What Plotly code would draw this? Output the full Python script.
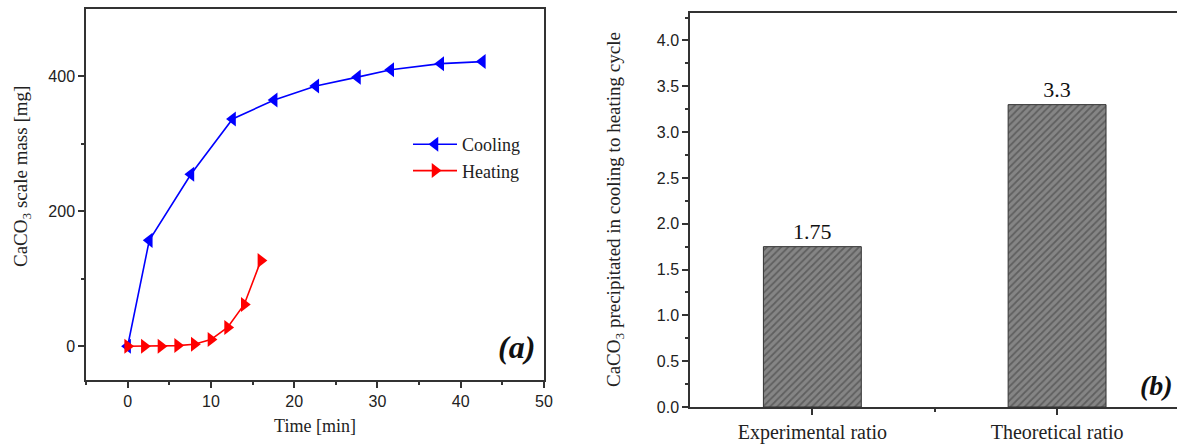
import plotly.graph_objects as go

# ---- data ----
cool_t = [0, 2.6, 7.6, 12.6, 17.6, 22.6, 27.6, 31.6, 37.6, 42.6]
cool_m = [0, 157, 255, 337, 365, 386, 399, 410, 419, 422]
heat_t = [0, 2, 4, 6, 8, 10, 12, 14, 16]
heat_m = [0, 0, 0, 1, 3, 10, 28, 62, 127]
bar_labels = ["Experimental ratio", "Theoretical ratio"]
bar_pos = [0, 1]
bar_vals = [1.75, 3.3]

W, H = 1177, 444
SERIF = "Liberation Serif"
SANS = "Liberation Sans"

fig = go.Figure()

fig.add_trace(go.Scatter(
    x=cool_t, y=cool_m, mode="lines+markers", name="Cooling",
    line=dict(color="#0000ff", width=1.6),
    marker=dict(symbol="triangle-left", size=13, color="#0000ff"),
    xaxis="x", yaxis="y"))
fig.add_trace(go.Scatter(
    x=heat_t, y=heat_m, mode="lines+markers", name="Heating",
    line=dict(color="#ff0000", width=1.6),
    marker=dict(symbol="triangle-right", size=13, color="#ff0000"),
    xaxis="x", yaxis="y"))

fig.add_trace(go.Bar(
    x=bar_pos, y=bar_vals, width=0.4, showlegend=False,
    text=[str(v) for v in bar_vals], textposition="outside",
    textfont=dict(family=SERIF, size=22, color="#111"),
    cliponaxis=False,
    marker=dict(color="#7a7a7a",
                line=dict(color="#333333", width=1),
                pattern=dict(shape="/", fgcolor="#3a3a3a", bgcolor="#858585",
                             size=5, solidity=0.35)),
    xaxis="x2", yaxis="y2"))

axis_common = dict(showline=True, linecolor="#333333", linewidth=1.5,
                   ticks="outside", tickcolor="#333333", tickwidth=1.5,
                   showgrid=False, zeroline=False, automargin=False,
                   tickfont=dict(family=SANS, size=16, color="#222"))

fig.update_layout(
    width=W, height=H, margin=dict(l=0, r=0, t=0, b=0),
    paper_bgcolor="white", plot_bgcolor="white",
    xaxis=dict(domain=[86 / W, 544 / W], anchor="y", range=[-5, 50],
               dtick=10, ticklen=6, mirror=True,
               minor=dict(dtick=5, ticks="outside", ticklen=3, tickcolor="#333333"),
               title=dict(text="Time [min]", font=dict(family=SERIF, size=18, color="#222"),
                          standoff=10),
               **axis_common),
    yaxis=dict(domain=[1 - 380 / H, 1 - 9 / H], anchor="x", range=[-50, 500],
               tickvals=[0, 200, 400], ticklen=6, mirror=True,
               minor=dict(tickvals=[100, 300], ticks="outside", ticklen=3, tickcolor="#333333"),
               **axis_common),
    xaxis2=dict(domain=[690 / W, 1.0], anchor="y2", range=[-0.5, 1.49],
                tickvals=bar_pos, ticktext=bar_labels, ticklen=6, mirror=True,
                minor=dict(tickvals=[0.5], ticks="outside", ticklen=3, tickcolor="#333333"),
                **{**axis_common, "tickfont": dict(family=SERIF, size=20, color="#222")}),
    yaxis2=dict(domain=[1 - 407 / H, 1 - 13 / H], anchor="x2", range=[0, 4.3],
                dtick=0.5, tickformat=".1f", ticklen=6,
                minor=dict(dtick=0.25, ticks="outside", ticklen=3, tickcolor="#333333"),
                **axis_common),
    legend=dict(x=408 / W, y=1 - 126 / H, xanchor="left", yanchor="top",
                bgcolor="rgba(0,0,0,0)", font=dict(family=SERIF, size=18, color="#222"),
                tracegroupgap=0, itemwidth=44),
    annotations=[
        dict(text="CaCO<sub>3</sub> scale mass [mg]", xref="paper", yref="paper",
             x=22 / W, y=1 - 177 / H, xanchor="center", yanchor="middle", textangle=-90,
             showarrow=False, font=dict(family=SERIF, size=19, color="#222")),
        dict(text="CaCO<sub>3</sub> precipitated in cooling to heating cycle",
             xref="paper", yref="paper",
             x=615 / W, y=1 - 210 / H, xanchor="center", yanchor="middle", textangle=-90,
             showarrow=False, font=dict(family=SERIF, size=19, color="#222")),
        dict(text="<b><i>(a)</i></b>", xref="paper", yref="paper",
             x=537 / W, y=1 - 347 / H, xanchor="right", yanchor="middle",
             showarrow=False, font=dict(family=SERIF, size=32, color="#111")),
        dict(text="<b><i>(b)</i></b>", xref="paper", yref="paper",
             x=1175 / W, y=1 - 385 / H, xanchor="right", yanchor="middle",
             showarrow=False, font=dict(family=SERIF, size=28, color="#111")),
    ],
)

fig.write_html("out.html")
